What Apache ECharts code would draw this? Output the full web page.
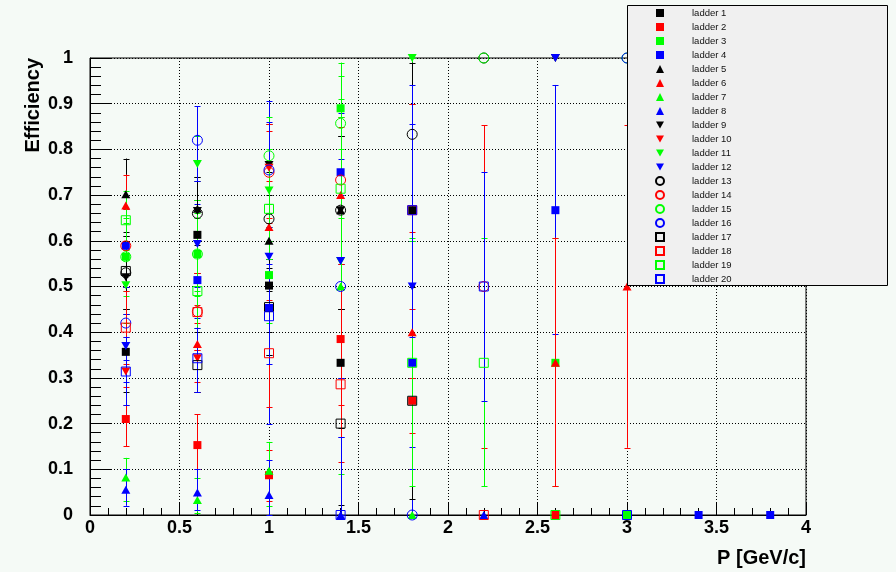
<!DOCTYPE html>
<html><head><meta charset="utf-8">
<script src="https://cdn.jsdelivr.net/npm/echarts@6/dist/echarts.min.js"></script>
<style>html,body{margin:0;padding:0;background:#f5faf6;}#c{width:896px;height:572px;}</style>
</head><body><div id="c"></div>
<script>
// Each point: [P (GeV/c), efficiency, error low end, error high end]
const ladderNames = ['ladder 1','ladder 2','ladder 3','ladder 4','ladder 5','ladder 6','ladder 7','ladder 8','ladder 9','ladder 10',
  'ladder 11','ladder 12','ladder 13','ladder 14','ladder 15','ladder 16','ladder 17','ladder 18','ladder 19','ladder 20'];
const ladder1 = [[0.2,0.357,0.27,0.45],[0.6,0.613,0.53,0.69],[1.0,0.502,0.40,0.60],[1.4,0.333,0.19,0.50],[1.8,0.667,0.30,0.90]];
const ladder2 = [[0.2,0.21,0.15,0.28],[0.6,0.153,0.10,0.22],[1.0,0.087,0.03,0.142],[1.4,0.385,0.24,0.55],[1.8,0.25,0.10,0.45],[2.6,0,0,0]];
const ladder3 = [[0.2,0.565,0.48,0.65],[0.6,0.571,0.49,0.65],[1.0,0.525,0.42,0.63],[1.4,0.89,0.70,0.99],[2.6,0.333,0.063,0.607],[3.0,0,0,0]];
const ladder4 = [[0.2,0.589,0.50,0.67],[0.6,0.514,0.43,0.60],[1.0,0.453,0.35,0.56],[1.4,0.75,0.55,0.88],[1.8,0.333,0.10,0.60],[2.6,0.667,0.396,0.941],[3.4,0,0,0],[3.8,0,0,0]];
const ladder5 = [[0.2,0.702,0.62,0.78],[0.6,0.67,0.59,0.74],[1.0,0.60,0.49,0.70],[1.4,0.667,0.45,0.83]];
const ladder6 = [[0.2,0.677,0.60,0.745],[0.6,0.374,0.29,0.46],[1.0,0.63,0.52,0.73],[1.4,0.70,0.50,0.85],[1.8,0.40,0.18,0.62],[2.6,0.333,0.063,0.607],[3.0,0.5,0.147,0.853]];
const ladder7 = [[0.2,0.082,0.03,0.125],[0.6,0.033,0.005,0.08],[1.0,0.097,0.02,0.16],[1.4,0.5,0.09,0.91],[1.8,0,0,0],[3.0,0,0,0]];
const ladder8 = [[0.2,0.055,0.02,0.10],[0.6,0.049,0.01,0.10],[1.0,0.044,0,0.12],[1.4,0,0,0.17],[2.2,0,0,0]];
const ladder9 = [[0.2,0.52,0.44,0.60],[0.6,0.665,0.58,0.73],[1.0,0.766,0.66,0.855],[1.4,0.667,0.45,0.83],[2.6,1.0,1.0,1.0]];
const ladder10 = [[0.2,0.314,0.24,0.39],[0.6,0.343,0.27,0.42],[1.0,0.76,0.65,0.855]];
const ladder11 = [[0.2,0.503,0.42,0.58],[0.6,0.768,0.69,0.83],[1.0,0.71,0.60,0.80],[1.4,0.556,0.30,0.80],[1.8,1.0,0.60,1.0]];
const ladder12 = [[0.2,0.37,0.29,0.44],[0.6,0.593,0.50,0.68],[1.0,0.565,0.20,0.905],[1.4,0.556,0.30,0.78],[1.8,0.5,0.148,0.855],[2.6,1.0,1.0,1.0]];
const ladder13 = [[0.2,0.53,0.45,0.61],[0.6,0.66,0.57,0.74],[1.0,0.648,0.54,0.75],[1.4,0.667,0.45,0.83],[1.8,0.833,0.50,0.99],[2.2,1.0,1.0,1.0]];
const ladder14 = [[0.2,0.589,0.50,0.67],[0.6,0.445,0.36,0.53],[1.0,0.75,0.64,0.84],[1.4,0.733,0.55,0.87],[2.2,0.5,0.147,0.853]];
const ladder15 = [[0.2,0.565,0.49,0.64],[0.6,0.571,0.48,0.66],[1.0,0.786,0.68,0.87],[1.4,0.857,0.65,0.96],[2.2,1.0,1.0,1.0],[3.0,1.0,1.0,1.0]];
const ladder16 = [[0.2,0.42,0.34,0.50],[0.6,0.82,0.73,0.895],[1.0,0.755,0.63,0.86],[1.4,0.5,0.30,0.70],[1.8,0,0,0.30],[3.0,1.0,1.0,1.0]];
const ladder17 = [[0.2,0.534,0.45,0.61],[0.6,0.328,0.27,0.40],[1.0,0.455,0.35,0.56],[1.4,0.2,0.022,0.45],[1.8,0.25,0.035,0.50]];
const ladder18 = [[0.2,0.41,0.33,0.49],[0.6,0.444,0.36,0.53],[1.0,0.354,0.237,0.47],[1.4,0.286,0.115,0.50],[1.8,0.667,0.30,0.90],[2.2,0,0,0]];
const ladder19 = [[0.2,0.645,0.56,0.71],[0.6,0.49,0.41,0.57],[1.0,0.67,0.56,0.77],[1.4,0.714,0.50,0.87],[1.8,0.333,0.063,0.607],[2.2,0.333,0.063,0.607],[2.6,0,0,0]];
const ladder20 = [[0.2,0.314,0.24,0.39],[0.6,0.343,0.27,0.41],[1.0,0.435,0.33,0.55],[1.4,0,0,0.17],[1.8,0.667,0.39,0.94],[2.2,0.5,0.25,0.75],[3.0,0,0,0]];
const ladders = [ladder1,ladder2,ladder3,ladder4,ladder5,ladder6,ladder7,ladder8,ladder9,ladder10,
  ladder11,ladder12,ladder13,ladder14,ladder15,ladder16,ladder17,ladder18,ladder19,ladder20];

const xAxisTitle = 'P [GeV/c]';
const yAxisTitle = 'Efficiency';

// styles
const palette = ['#000000','#ff0000','#00ff00','#0000ff'];
const downTri = 'path://M0,0L10,0L5,9Z';
const shapes = [
  {symbol:'rect', size:8, open:false},
  {symbol:'triangle', size:[9,8], open:false},
  {symbol:downTri, size:[9,8], open:false},
  {symbol:'circle', size:10, open:true},
  {symbol:'rect', size:9, open:true}
];
const font = '"Liberation Sans", Arial, Helvetica, sans-serif';

const chart = echarts.init(document.getElementById('c'), null, {renderer:'canvas'});
const series = [];
ladders.forEach((pts, i) => {
  const color = palette[i % 4];
  const shp = shapes[Math.floor(i / 4)];
  series.push({
    type:'custom', name:'err ' + (i+1), data: pts, clip:false, silent:true, z:2,
    encode:{x:0, y:1},
    renderItem:(params, api) => {
      const x = api.value(0), lo = api.value(2), hi = api.value(3);
      if (!(hi > lo)) return null;
      const a = api.coord([x, lo]), b = api.coord([x, hi]);
      const px = Math.round(a[0]) + 0.5;
      const st = {stroke: color, lineWidth: 1};
      const ch = [{type:'line', shape:{x1:px, y1:a[1], x2:px, y2:b[1]}, style:st}];
      const ya = Math.round(a[1]) + 0.5, yb = Math.round(b[1]) + 0.5;
      ch.push({type:'line', shape:{x1:px-3, y1:ya, x2:px+3, y2:ya}, style:st});
      ch.push({type:'line', shape:{x1:px-3, y1:yb, x2:px+3, y2:yb}, style:st});
      return {type:'group', children: ch};
    }
  });
  series.push({
    type:'scatter', name: ladderNames[i], data: pts, clip:false, z:2,
    encode:{x:0, y:1},
    symbol: shp.symbol, symbolSize: shp.size,
    itemStyle: shp.open ? {color:'rgba(0,0,0,0)', borderColor:color, borderWidth:1, opacity:1}
                        : {color:color, opacity:1},
    emphasis:{disabled:true}
  });
});

chart.setOption({
  animation:false,
  backgroundColor:'#f5faf6',
  grid:{left:90, top:58, width:716, height:457, show:true, borderColor:'#000', borderWidth:1, backgroundColor:'transparent'},
  xAxis:{
    type:'value', min:0, max:4, interval:0.5,
    axisLine:{show:true, onZero:false, lineStyle:{color:'#000', width:1}},
    axisTick:{show:true, inside:true, length:13, lineStyle:{color:'#000'}},
    minorTick:{show:true, splitNumber:5, length:7, lineStyle:{color:'#000'}},
    splitLine:{show:true, lineStyle:{color:'#000', type:[1,2], width:1}},
    axisLabel:{color:'#000', fontFamily:font, fontWeight:'bold', fontSize:18, margin:4}
  },
  yAxis:{
    type:'value', min:0, max:1, interval:0.1,
    axisLine:{show:true, onZero:false, lineStyle:{color:'#000', width:1}},
    axisTick:{show:true, inside:true, length:21, lineStyle:{color:'#000'}},
    minorTick:{show:true, splitNumber:5, length:11, lineStyle:{color:'#000'}},
    splitLine:{show:true, lineStyle:{color:'#000', type:[1,2], width:1}},
    axisLabel:{color:'#000', fontFamily:font, fontWeight:'bold', fontSize:18, margin:17}
  },
  legend:{
    data: ladderNames, orient:'vertical', left:627, top:5, z:101,
    padding:[3,0,0,28], itemWidth:8, itemHeight:8, itemGap:4, selectedMode:false,
    textStyle:{fontFamily:font, fontSize:9.5, color:'#111', lineHeight:8, padding:[0,0,0,23]}
  },
  graphic:{elements:[
    {type:'rect', z:100, shape:{x:627.5, y:5.5, width:260, height:280},
     style:{fill:'#f0f0f0', stroke:'#000', lineWidth:1}},
    {type:'text', z:100, x:33, y:58, rotation:Math.PI/2,
     style:{text:yAxisTitle, font:'bold 20px ' + font, fill:'#000', textAlign:'right', textVerticalAlign:'middle'}},
    {type:'text', z:100, x:806, y:558,
     style:{text:xAxisTitle, font:'bold 20px ' + font, fill:'#000', textAlign:'right', textVerticalAlign:'middle'}}
  ]},
  series: series
});
</script></body></html>
